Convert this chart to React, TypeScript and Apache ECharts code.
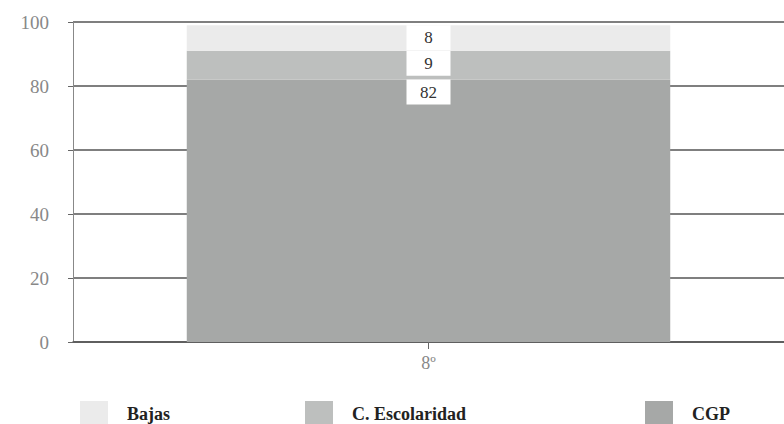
import React, { useEffect, useRef } from "react";
import * as echarts from "echarts";

const categories = ["8º"];
const seriesNames = ["CGP", "C. Escolaridad", "Bajas"];
const cgpValues = [82];
const escolaridadValues = [9];
const bajasValues = [8];
const yTicks = { min: 0, max: 100, interval: 20 };
const colors = ["#a6a8a7", "#bdbfbe", "#ebebeb"];

const serif = "'Liberation Serif', 'Times New Roman', serif";

export default function App() {
  const ref = useRef<HTMLDivElement>(null);
  useEffect(() => {
    if (!ref.current) return;
    const chart = echarts.init(ref.current, undefined, { renderer: "svg" });
    const label = {
      show: true,
      position: "insideTop" as const,
      distance: 0,
      backgroundColor: "#ffffff",
      color: "#333",
      fontFamily: serif,
      fontSize: 17,
      width: 44,
      align: "center" as const,
      padding: [4, 0, 4, 0],
    };
    const legendText = {
      fontFamily: serif,
      fontWeight: "bold" as const,
      fontSize: 18,
      lineHeight: 20,
      color: "#222",
      padding: [0, 0, 0, 14],
    };
    const legendCommon = {
      top: 396,
      icon: "rect",
      itemWidth: 28,
      itemHeight: 26,
      textStyle: legendText,
      selectedMode: false,
    };
    chart.setOption({
      animation: false,
      color: colors,
      grid: { left: 73, right: 0, top: 22, bottom: 82 },
      legend: [
        { ...legendCommon, left: 75, data: ["Bajas"] },
        { ...legendCommon, left: 300, data: ["C. Escolaridad"] },
        { ...legendCommon, left: 640, data: ["CGP"] },
      ],
      xAxis: {
        type: "category",
        data: categories,
        axisLine: { show: true, lineStyle: { color: "#555", width: 1.5 } },
        axisTick: { show: true, alignWithLabel: true, length: 7, lineStyle: { color: "#666" } },
        axisLabel: { fontFamily: serif, fontSize: 18, color: "#888", margin: 12 },
      },
      yAxis: {
        type: "value",
        min: yTicks.min,
        max: yTicks.max,
        interval: yTicks.interval,
        axisLine: { show: true, lineStyle: { color: "#888", width: 1 } },
        axisTick: { show: true, length: 5, lineStyle: { color: "#666" } },
        axisLabel: { fontFamily: serif, fontSize: 19, color: "#888", margin: 24 },
        splitLine: { show: true, lineStyle: { color: "#555", width: 1.5 } },
      },
      series: [
        { name: seriesNames[0], type: "bar", stack: "t", barWidth: "68%", data: cgpValues, label, itemStyle: { color: colors[0] } },
        { name: seriesNames[1], type: "bar", stack: "t", barWidth: "68%", data: escolaridadValues, label, itemStyle: { color: colors[1] } },
        { name: seriesNames[2], type: "bar", stack: "t", barWidth: "68%", data: bajasValues, label, itemStyle: { color: colors[2] } },
      ],
    });
    return () => chart.dispose();
  }, []);
  return <div ref={ref} style={{ width: 784, height: 424, position: "absolute", left: 0, top: 0 }} />;
}
